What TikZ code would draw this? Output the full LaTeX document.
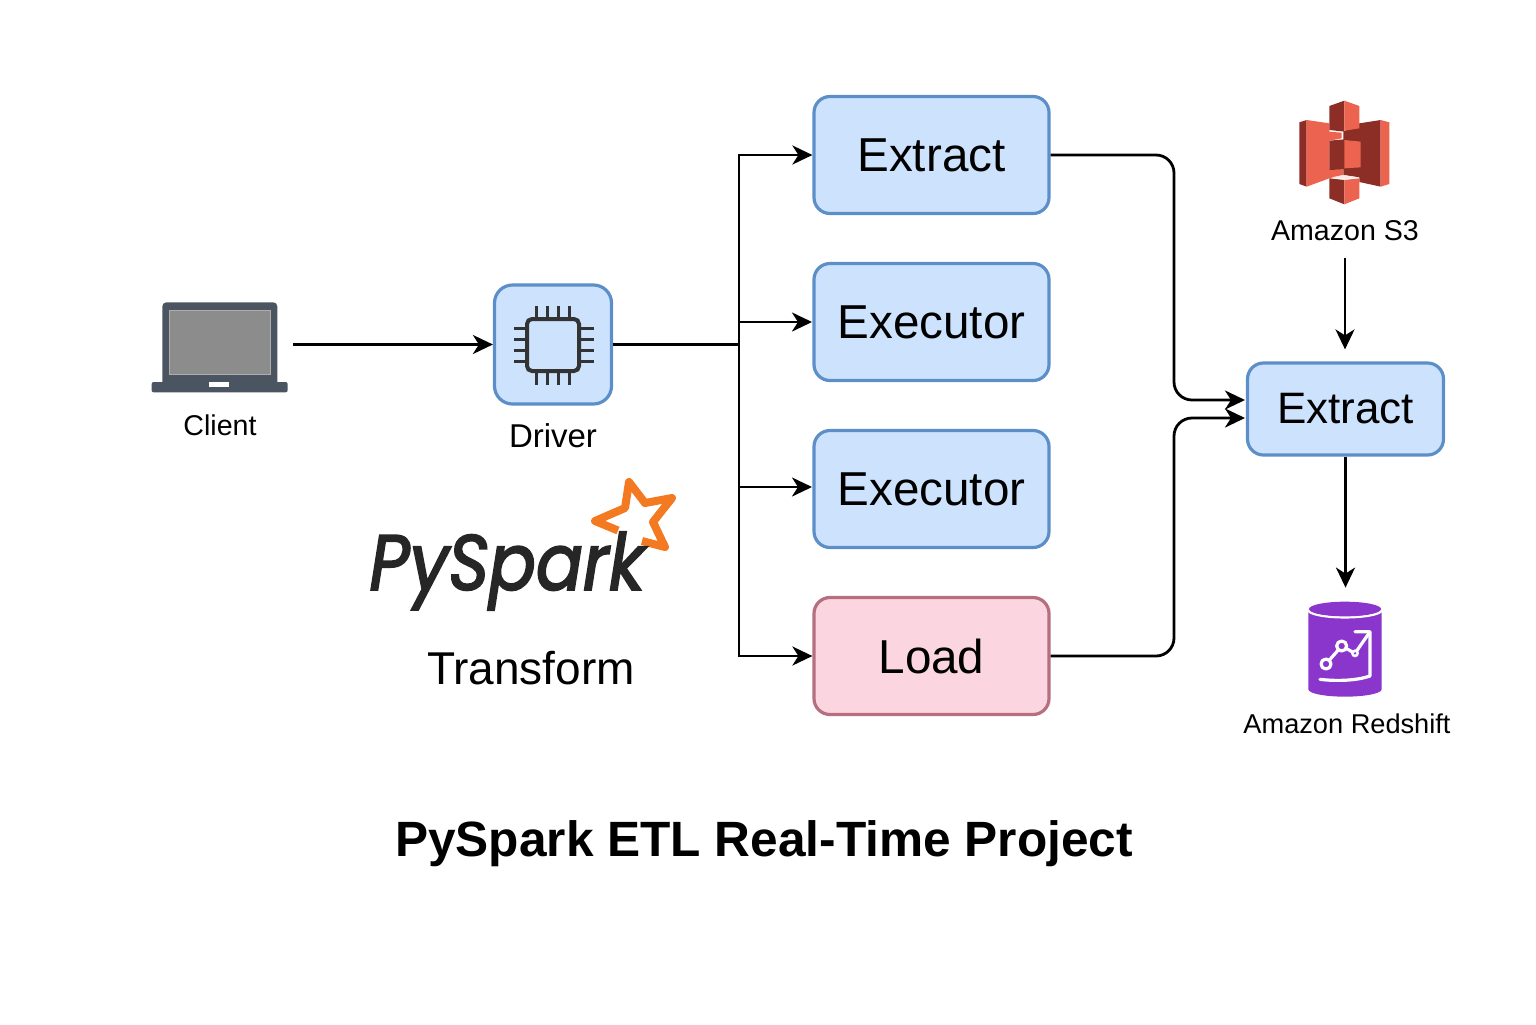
\documentclass[tikz,border=0pt]{standalone}
\usepackage{fontspec}
\setmainfont{Liberation Sans}
\newfontfamily\logofont[ItalicFeatures={FakeBold=2.6}]{Poppins}
\usepackage{tikz}
\usetikzlibrary{arrows.meta}

\definecolor{boxblue}{HTML}{CDE3FD}
\definecolor{lineblue}{HTML}{5C8FC8}
\definecolor{boxpink}{HTML}{FBD5E0}
\definecolor{linepink}{HTML}{B56F80}
\definecolor{laptopgray}{HTML}{4A5561}
\definecolor{s3light}{HTML}{EC6450}
\definecolor{s3dark}{HTML}{8C2E26}
\definecolor{sparkorange}{HTML}{F37A20}
\definecolor{redshiftpurple}{HTML}{8A36CC}

\begin{document}
\begin{tikzpicture}[x=0.5pt, y=-0.5pt, >={Stealth[length=10pt,width=9.5pt,inset=3pt]},
	flow/.style={->, line width=1.4pt, black},
	stepbox/.style={draw=lineblue, line width=1.6pt, fill=boxblue, rounded corners=8pt, minimum width=117.5pt, minimum height=58.5pt, font=\fontsize{23.8}{28}\selectfont},
	loadbox/.style={stepbox, draw=linepink, fill=boxpink},
	caption/.style={font=\fontsize{14.3}{17}\selectfont, inner sep=0pt},
	chippin/.style={line width=1.5pt, draw=black!80},
	chartline/.style={draw=white, line width=1.6pt, line cap=round, line join=round}]
	\useasboundingbox (0,0) rectangle (1536,1024);

	\node[minimum width=146pt/2, minimum height=30pt, inner sep=0pt] (client) at (220,344.5) {};
	\node[caption] (clientLabel) at (220,425) {Client};
	\node[stepbox, minimum width=58.5pt, minimum height=59.5pt, rounded corners=9pt] (driver) at (553,344.5) {};
	\node[caption, font=\fontsize{16.5}{20}\selectfont] (driverLabel) at (553,436) {Driver};

	\node[stepbox] (extractTop) at (931.5,155) {Extract};
	\node[stepbox] (executorOne) at (931.5,322) {Executor};
	\node[stepbox] (executorTwo) at (931.5,489) {Executor};
	\node[loadbox] (load) at (931.5,656) {Load};
	\node[stepbox, minimum width=98pt, minimum height=46pt, font=\fontsize{22}{26}\selectfont] (extractRight) at (1345.5,409) {Extract};

	\node[caption, minimum height=27pt] (s3Label) at (1345,231) {Amazon S3};
	\node[minimum width=50pt, minimum height=61pt, inner sep=0pt] (redshift) at (1345,649) {};
	\node[caption, font=\fontsize{13.6}{16}\selectfont] (redshiftLabel) at (1347,724) {Amazon Redshift};
	\node[inner sep=0pt, font=\fontsize{23}{27}\selectfont] (transform) at (531,668) {Transform};
	\node[inner sep=0pt, font=\bfseries\fontsize{24.8}{30}\selectfont] (title) at (764,844) {PySpark ETL Real-Time Project};

	% laptop
	\begin{scope}[shift={(130,280)}, x=0.5pt/3, y=-0.5pt/3]
		\fill[laptopgray, rounded corners=2pt] (97,320) -- (97,67) -- (442,67) -- (442,320) -- cycle;
		\fill[laptopgray, rounded corners=1pt] (65,306) -- (473,306) -- (473,337) -- (65,337) -- cycle;
		\draw[fill=black!45, draw=black!32, line width=0.4pt] (117,90) rectangle (420,283);
		\fill[white] (238,305) rectangle (298,320);
	\end{scope}

	% chip in the driver
	\foreach \d in {-16.5, -5.5, 5.5, 16.5} {
		\draw[chippin] (553+\d,306) -- (553+\d,385);
		\draw[chippin] (514,345+\d) -- (594,345+\d);
	}
	\draw[draw=black!80, fill=boxblue, line width=2pt, rounded corners=2.5pt] (527,319) rectangle (579,371);

	% s3 bucket
	\begin{scope}[shift={(1230,80)}, x=0.5pt/3, y=-0.5pt/3]
		\fill[s3dark] (388,130) -- (452,120) -- (452,320) -- (388,306) -- (388,292) -- (340,285) -- (340,155) -- cycle;
		\fill[s3dark] (208,127) -- (230,120) -- (230,320) -- (208,312) -- cycle;
		\fill[s3light] (230,120) -- (298,130) -- (298,155) -- (335,158) -- (335,175) -- (298,182) -- (298,268) -- (340,268) -- (340,285) -- (298,295) -- (230,320) -- cycle;
		\fill[s3light] (452,120) -- (478,127) -- (478,312) -- (452,320) -- cycle;
		\fill[s3dark] (298,78) -- (343,62) -- (343,155) -- (298,150) -- cycle;
		\fill[s3light] (343,62) -- (388,78) -- (388,145) -- (343,152) -- cycle;
		\fill[s3dark] (298,182) -- (343,178) -- (343,268) -- (298,270) -- cycle;
		\fill[s3light] (343,180) -- (392,185) -- (392,262) -- (343,265) -- cycle;
		\fill[s3dark] (298,295) -- (343,300) -- (343,373) -- (298,355) -- cycle;
		\fill[s3light] (343,300) -- (388,295) -- (388,355) -- (343,373) -- cycle;
		\fill[white!85!s3light] (343,297) -- (305,292) -- (340,285) -- (385,292) -- cycle;
	\end{scope}

	% redshift cylinder
	\begin{scope}[shift={(1280,590)}, x=0.5pt/3, y=-0.5pt/3]
		\fill[redshiftpurple] (85,57) -- (85,298) arc[x radius=110, y radius=22, start angle=180, end angle=0] -- (305,57) -- cycle;
		\draw[chartline, line width=1.2pt] (85,60) arc[x radius=110, y radius=22, start angle=180, end angle=0];
		\fill[redshiftpurple] (195,57) ellipse[x radius=108, y radius=22];
		\draw[chartline] (138,222) -- (185,168) -- (225,190) -- (268,128);
		\draw[chartline] (225,125) -- (270,125) -- (270,258) .. controls (230,272) and (170,274) .. (120,268);
		\draw[chartline, fill=redshiftpurple] (138,222) circle[radius=15];
		\draw[chartline, fill=redshiftpurple] (185,168) circle[radius=15];
		\fill[white] (225,190) circle[radius=12];
		\fill[redshiftpurple] (225,190) circle[radius=4];
	\end{scope}

	% spark logo
	\draw[sparkorange, line width=4pt, line join=round, line cap=butt] (618,530.5) -- (595,521) -- (625,508) -- (629,482) -- (645,503) -- (672,498) -- (653,522) -- (665,547) -- (642,541);
	\node[inner sep=0pt, transform shape, xscale=0.89, font=\logofont\itshape\fontsize{39}{46}\selectfont, text=black!85] (pyspark) at (507,571) {PySpark};

	\coordinate (trunk) at (739,344.5);
	\coordinate (execInOne) at (812,322);
	\coordinate (execInTwo) at (812,487);
	\coordinate (busTop) at (1174,400);
	\coordinate (busLow) at (1174,418);
	\coordinate (rightInTop) at (1245,400);
	\coordinate (rightInLow) at (1245,418);

	\draw[flow] (client) -- (driver);
	\draw[line width=1.4pt] (driver) -- (trunk);
	\draw[flow] (trunk) |- (extractTop);
	\draw[flow] (trunk |- execInOne) -- (execInOne);
	\draw[flow] (trunk) |- (execInTwo);
	\draw[flow] (trunk) |- (load);
	\draw[flow, rounded corners=9pt] (extractTop) -| (busTop) -- (rightInTop);
	\draw[flow, rounded corners=9pt] (load) -| (busLow) -- (rightInLow);
	\draw[flow, shorten >=6pt] (s3Label) -- (s3Label |- extractRight.north);
	\draw[flow] (extractRight) -- (extractRight |- redshift.north);
\end{tikzpicture}
\end{document}
